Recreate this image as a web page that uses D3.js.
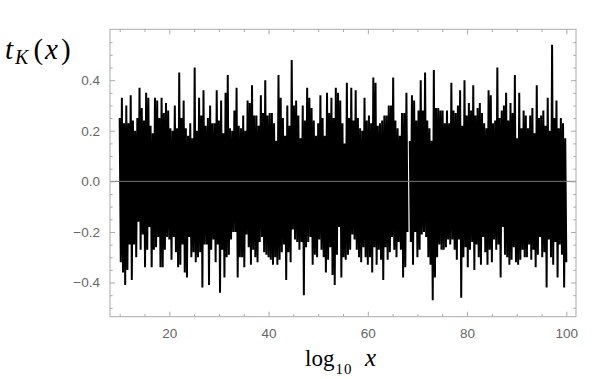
<!DOCTYPE html>
<html>
<head>
<meta charset="utf-8">
<script src="https://cdn.jsdelivr.net/npm/d3@7"></script>
<style>
	body { margin: 0; background: #fff; }
	.tick text { font-family: "Liberation Sans", Arial, sans-serif; font-size: 13.5px; fill: #666; }
	.tick line { stroke: #aaa; }
	.domain { display: none; }
</style>
</head>
<body>
<div id="chartDiv"></div>
<script>
;(function() {

	var width = 610;
	var height = 379;
	var frame = { left: 110, right: 576, top: 29.3, bottom: 316.7 };

	var dataXRange = { min: 8.05, max: 101.95 };
	var dataYRange = { min: -0.535, max: 0.601 };

	var xMajorTicks = [20, 40, 60, 80, 100];
	var xMinorTicks = [10, 15, 25, 30, 35, 45, 50, 55, 65, 70, 75, 85, 90, 95];
	var yMajorTicks = [-0.4, -0.2, 0, 0.2, 0.4];
	var yMinorTicks = [-0.5, -0.45, -0.35, -0.3, -0.25, -0.15, -0.1, -0.05, 0.05, 0.1, 0.15, 0.25, 0.3, 0.35, 0.45, 0.5, 0.55];

	// the curve runs in two pieces, there is a small break near 68.2
	var pieceA = [10, 68.0];
	var pieceB = [68.45, 100];

	// tops of the spikes, read left to right
	var highsA = [0.25, 0.33, 0.23, 0.30, 0.23, 0.34, 0.24, 0.20, 0.25, 0.37, 0.29, 0.24, 0.35, 0.33, 0.22, 0.19,
		0.33, 0.32, 0.25, 0.33, 0.27, 0.31, 0.28, 0.21, 0.20, 0.30, 0.21, 0.43, 0.25, 0.32, 0.21, 0.18,
		0.23, 0.17, 0.45, 0.20, 0.33, 0.26, 0.36, 0.22, 0.25, 0.30, 0.23, 0.23, 0.36, 0.24, 0.32, 0.19,
		0.35, 0.42, 0.21, 0.20, 0.28, 0.37, 0.22, 0.21, 0.26, 0.20, 0.32, 0.31, 0.38,
		0.26, 0.26, 0.22, 0.34, 0.27, 0.40, 0.26, 0.27, 0.27, 0.23, 0.16, 0.42, 0.33, 0.25, 0.18, 0.30,
		0.22, 0.48, 0.30, 0.32, 0.26, 0.17, 0.30, 0.24, 0.37, 0.33, 0.29, 0.24, 0.18, 0.23, 0.34, 0.25,
		0.18, 0.35, 0.27, 0.33, 0.25, 0.37, 0.35, 0.32, 0.23,
		0.15, 0.39, 0.25, 0.37, 0.24, 0.36, 0.25, 0.21, 0.20, 0.33, 0.24, 0.26, 0.23, 0.41, 0.39, 0.22,
		0.23, 0.24, 0.26, 0.26, 0.30, 0.30, 0.41, 0.24, 0.21, 0.18, 0.27, 0.27, 0.35];

	// bottoms of the spikes
	var lowsA = [-0.32, -0.36, -0.41, -0.35, -0.25, -0.39, -0.25, -0.30, -0.16, -0.27, -0.21,
		-0.34, -0.27, -0.18, -0.34, -0.27, -0.26, -0.22, -0.34, -0.34, -0.27,
		-0.22, -0.23, -0.31, -0.22, -0.28, -0.34, -0.33, -0.25, -0.36, -0.38, -0.22,
		-0.30, -0.28, -0.32, -0.30, -0.28, -0.42, -0.25, -0.25, -0.41, -0.27, -0.23,
		-0.32, -0.25, -0.44, -0.27, -0.38, -0.30, -0.29, -0.23, -0.20, -0.20,
		-0.38, -0.30, -0.30, -0.34, -0.21, -0.26,
		-0.33, -0.27, -0.30, -0.32, -0.24, -0.22, -0.28, -0.29, -0.30, -0.31, -0.33, -0.30, -0.33, -0.31,
		-0.28, -0.25, -0.39, -0.28, -0.32, -0.19, -0.23, -0.24, -0.27, -0.24, -0.45, -0.26, -0.24, -0.22,
		-0.33, -0.29, -0.30, -0.23, -0.27, -0.30, -0.36, -0.31, -0.26, -0.37, -0.41, -0.29, -0.18, -0.38, -0.30,
		-0.31, -0.29, -0.27, -0.21, -0.23, -0.27, -0.30, -0.32, -0.26, -0.30, -0.33, -0.30, -0.36, -0.26,
		-0.33, -0.27, -0.31, -0.39, -0.26, -0.31, -0.28, -0.22, -0.27, -0.30, -0.24, -0.27, -0.38, -0.34, -0.20];

	var highsB = [0.16, 0.34, 0.32, 0.24, 0.28, 0.40, 0.28, 0.43, 0.24, 0.21, 0.16, 0.44, 0.29, 0.29, 0.28,
		0.28, 0.23, 0.28, 0.23, 0.39, 0.28, 0.27, 0.30, 0.36, 0.22, 0.40, 0.26, 0.31, 0.28, 0.38, 0.26,
		0.29, 0.31, 0.27, 0.23, 0.21, 0.36, 0.34, 0.23, 0.24, 0.45, 0.25, 0.28, 0.30, 0.35, 0.24, 0.31,
		0.27, 0.42, 0.17, 0.35, 0.21, 0.28, 0.26, 0.21, 0.26, 0.29, 0.19, 0.38, 0.25, 0.26, 0.28, 0.22,
		0.33, 0.20, 0.54, 0.25, 0.32, 0.21, 0.25, 0.23, 0.17];

	var lowsB = [-0.24, -0.33, -0.20, -0.30, -0.27, -0.21, -0.20, -0.22, -0.30, -0.33, -0.47, -0.38, -0.30, -0.25, -0.27,
		-0.27, -0.26, -0.23, -0.25, -0.23, -0.27, -0.31, -0.23, -0.46, -0.30, -0.26, -0.34, -0.27, -0.24,
		-0.35, -0.25, -0.30, -0.33, -0.22, -0.28, -0.33, -0.27, -0.32, -0.23, -0.27, -0.25, -0.38, -0.18,
		-0.29, -0.30, -0.33, -0.31, -0.26, -0.32, -0.33, -0.31, -0.27, -0.30, -0.30, -0.25, -0.31, -0.27,
		-0.34, -0.29, -0.22, -0.30, -0.28, -0.42, -0.23, -0.30, -0.33, -0.24, -0.38, -0.25, -0.29, -0.42, -0.32];

	var chart;

	init();

	function init() {
		chart = d3.select("#chartDiv").append("svg")
			.attr("width", width)
			.attr("height", height)
			.style("display", "block");

		chart.xScale = d3.scaleLinear()
			.domain([dataXRange.min, dataXRange.max])
			.range([frame.left, frame.right]);

		chart.yScale = d3.scaleLinear()
			.domain([dataYRange.min, dataYRange.max])
			.range([frame.bottom, frame.top]);

		drawCurve();
		createAxes();
		addLabels();
	}

	// one piece: high, low, high, low ... spread evenly over its x range
	function piecePoints(highs, lows, range) {
		var n = Math.min(highs.length, lows.length);
		var step = d3.scaleLinear().domain([0, n - 0.5]).range(range);
		var pts = [];
		for (var k = 0; k < n; k++) {
			pts.push({ x: step(k), y: highs[k] });
			pts.push({ x: step(k + 0.5), y: lows[k] });
		}
		return pts;
	}

	function drawCurve() {
		chart.append("clipPath").attr("id", "plotClip")
			.append("rect")
			.attr("x", frame.left).attr("y", frame.top)
			.attr("width", frame.right - frame.left)
			.attr("height", frame.bottom - frame.top);

		var line = d3.line()
			.x(function(d) { return chart.xScale(d.x); })
			.y(function(d) { return chart.yScale(d.y); });

		var pieces = [piecePoints(highsA, lowsA, pieceA), piecePoints(highsB, lowsB, pieceB)];

		chart.append("g")
			.attr("clip-path", "url(#plotClip)")
			.selectAll(".curve")
			.data(pieces)
			.enter().append("path")
			.attr("class", "curve")
			.attr("d", line)
			.attr("fill", "none")
			.attr("stroke", "#000")
			.attr("stroke-width", 2);

		// axis line at zero, drawn over the curve
		chart.append("line")
			.attr("x1", frame.left).attr("x2", frame.right)
			.attr("y1", chart.yScale(0)).attr("y2", chart.yScale(0))
			.attr("stroke", "#777")
			.attr("stroke-width", 1);
	}

	function createAxes() {
		var fmt = d3.format(".1f");

		// bottom, with labels
		chart.append("g")
			.attr("transform", "translate(0," + frame.bottom + ")")
			.call(d3.axisBottom(chart.xScale).tickValues(xMajorTicks).tickSize(-5).tickPadding(12).tickFormat(d3.format("d")));
		chart.append("g")
			.attr("transform", "translate(0," + frame.bottom + ")")
			.call(d3.axisBottom(chart.xScale).tickValues(xMinorTicks).tickSize(-2.7).tickFormat(""));

		// top, ticks only
		chart.append("g")
			.attr("transform", "translate(0," + frame.top + ")")
			.call(d3.axisTop(chart.xScale).tickValues(xMajorTicks).tickSize(-5).tickFormat(""));
		chart.append("g")
			.attr("transform", "translate(0," + frame.top + ")")
			.call(d3.axisTop(chart.xScale).tickValues(xMinorTicks).tickSize(-2.7).tickFormat(""));

		// left, with labels
		chart.append("g")
			.attr("transform", "translate(" + frame.left + ",0)")
			.call(d3.axisLeft(chart.yScale).tickValues(yMajorTicks).tickSize(-5).tickPadding(10).tickFormat(fmt));
		chart.append("g")
			.attr("transform", "translate(" + frame.left + ",0)")
			.call(d3.axisLeft(chart.yScale).tickValues(yMinorTicks).tickSize(-2.7).tickFormat(""));

		// right, ticks only
		chart.append("g")
			.attr("transform", "translate(" + frame.right + ",0)")
			.call(d3.axisRight(chart.yScale).tickValues(yMajorTicks).tickSize(-5).tickFormat(""));
		chart.append("g")
			.attr("transform", "translate(" + frame.right + ",0)")
			.call(d3.axisRight(chart.yScale).tickValues(yMinorTicks).tickSize(-2.7).tickFormat(""));

		chart.append("rect")
			.attr("x", frame.left).attr("y", frame.top)
			.attr("width", frame.right - frame.left)
			.attr("height", frame.bottom - frame.top)
			.attr("fill", "none")
			.attr("stroke", "#aaa")
			.attr("stroke-width", 1);
	}

	function addLabels() {
		var serif = "'Liberation Serif', 'DejaVu Serif', serif";

		// y label  t_K(x)
		var yl = chart.append("text")
			.attr("x", 5).attr("y", 59)
			.style("font-family", serif)
			.style("font-size", "29px")
			.attr("fill", "#000");
		yl.append("tspan").style("font-style", "italic").text("t");
		yl.append("tspan").style("font-style", "italic").style("font-size", "20px").attr("dx", 2).attr("dy", 5).text("K");
		yl.append("tspan").attr("dx", 5).attr("dy", -5).text("(");
		yl.append("tspan").attr("dx", 2).style("font-style", "italic").text("x");
		yl.append("tspan").attr("dx", 3).text(")");

		// x label  log10 x
		var xl = chart.append("text")
			.attr("x", 305).attr("y", 366)
			.style("font-family", serif)
			.style("font-size", "23px")
			.attr("fill", "#000");
		xl.append("tspan").text("log");
		xl.append("tspan").style("font-size", "15px").attr("dx", 1).attr("dy", 8).style("letter-spacing", "1px").text("10");
		xl.append("tspan").attr("x", 365).attr("y", 366).style("font-style", "italic").style("font-size", "25px").text("x");
	}

})();
</script>
</body>
</html>
